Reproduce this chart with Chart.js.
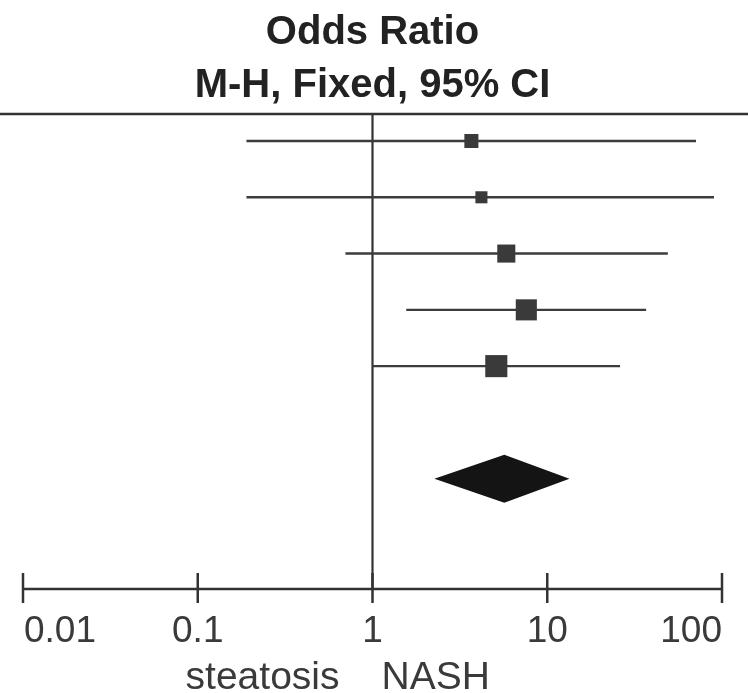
<!DOCTYPE html>
<html>
<head>
<meta charset="utf-8">
<script src="https://cdn.jsdelivr.net/npm/chart.js@4.4.1/dist/chart.umd.min.js"></script>
<style>
  html,body{margin:0;padding:0;background:#fff;}
  canvas{display:block;}
</style>
</head>
<body>
<canvas id="chart" width="748" height="693"></canvas>
<script>
// study rows (top to bottom), odds ratios
const rows = [1, 2, 3, 4, 5];
const orEst = [3.68, 4.2, 5.83, 7.59, 5.11];
const ciLow = [0.19, 0.19, 0.70, 1.56, 1.0];
const ciHigh = [71, 90, 49, 36.8, 26.1];
const weights = [12.3, 9.1, 20.4, 27.8, 30.5]; // % -> box size
// pooled (diamond): low, estimate, high
const pooledRow = 7;
const pooled = [2.26, 5.68, 13.4];
const tickVals = [0.01, 0.1, 1, 10, 100];
const tickLabels = ['0.01', '0.1', '1', '10', '100'];
const sideLabels = ['steatosis', 'NASH'];

const FONT = "'Liberation Sans', Arial, Helvetica, sans-serif";
const INK = '#333';

const ciSets = rows.map((r, i) => ({
  data: [{x: ciLow[i], y: r}, {x: ciHigh[i], y: r}],
  showLine: true, borderColor: '#3c3c3c', borderWidth: 2.4,
  pointRadius: 0
}));

const boxes = {
  data: rows.map((r, i) => ({x: orEst[i], y: r})),
  pointStyle: 'rect',
  pointRadius: rows.map((r, i) => 4 * Math.sqrt(weights[i]) / Math.SQRT2),
  pointBackgroundColor: '#3a3a3a',
  pointBorderWidth: 0,
  showLine: false
};

// frame, null line, diamond, axis
const forest = {
  id: 'forest',
  beforeDatasetsDraw(chart){
    const {ctx, chartArea:a, scales:{x}} = chart;
    ctx.save();
    ctx.strokeStyle = INK;
    ctx.lineWidth = 2.5;
    ctx.beginPath();
    ctx.moveTo(0, a.top); ctx.lineTo(chart.width, a.top);
    ctx.stroke();
    const x1 = x.getPixelForValue(1);
    ctx.lineWidth = 2.2;
    ctx.beginPath();
    ctx.moveTo(x1, a.top); ctx.lineTo(x1, a.bottom);
    ctx.stroke();
    ctx.restore();
  },
  afterDatasetsDraw(chart){
    const {ctx, chartArea:a, scales:{x, y}} = chart;
    ctx.save();
    // diamond
    const yd = y.getPixelForValue(pooledRow), h = 24;
    ctx.fillStyle = '#141414';
    ctx.beginPath();
    ctx.moveTo(x.getPixelForValue(pooled[0]), yd);
    ctx.lineTo(x.getPixelForValue(pooled[1]), yd - h);
    ctx.lineTo(x.getPixelForValue(pooled[2]), yd);
    ctx.lineTo(x.getPixelForValue(pooled[1]), yd + h);
    ctx.closePath();
    ctx.fill();
    // axis
    const yb = a.bottom;
    ctx.strokeStyle = INK;
    ctx.lineWidth = 2.5;
    ctx.beginPath();
    ctx.moveTo(x.getPixelForValue(tickVals[0]), yb);
    ctx.lineTo(x.getPixelForValue(tickVals[tickVals.length-1]), yb);
    tickVals.forEach(v => {
      const px = x.getPixelForValue(v);
      ctx.moveTo(px, yb - 16); ctx.lineTo(px, yb + 14);
    });
    ctx.stroke();
    ctx.fillStyle = '#3a3a3a';
    ctx.font = '37px ' + FONT;
    ctx.textBaseline = 'alphabetic';
    tickVals.forEach((v, i) => {
      const px = x.getPixelForValue(v);
      ctx.textAlign = i === 0 ? 'left' : (i === tickVals.length-1 ? 'right' : 'center');
      ctx.fillText(tickLabels[i], px + (i === 0 ? 1 : 0), yb + 53);
    });
    const x1 = x.getPixelForValue(1);
    ctx.font = '39px ' + FONT;
    ctx.textAlign = 'right';
    ctx.fillText(sideLabels[0], x1 - 33, yb + 100);
    ctx.textAlign = 'left';
    ctx.fillText(sideLabels[1], x1 + 9, yb + 100);
    ctx.restore();
  }
};

new Chart(document.getElementById('chart'), {
  type: 'scatter',
  data: {datasets: [boxes, ...ciSets]},
  options: {
    responsive: false,
    animation: false,
    devicePixelRatio: 1,
    layout: {padding: {left: 23, right: 26, top: 0, bottom: 104}},
    plugins: {
      legend: {display: false},
      tooltip: {enabled: false},
      title: {
        display: true,
        text: ['Odds Ratio', 'M-H, Fixed, 95% CI'],
        color: '#222',
        font: {family: FONT, size: 40, weight: 'bold', lineHeight: 53/40},
        padding: {top: 6, bottom: 2}
      }
    },
    scales: {
      x: {type: 'logarithmic', min: 0.01, max: 100, display: false},
      y: {type: 'linear', min: 0.52, max: 8.96, reverse: true, display: false}
    }
  },
  plugins: [forest]
});
</script>
</body>
</html>
